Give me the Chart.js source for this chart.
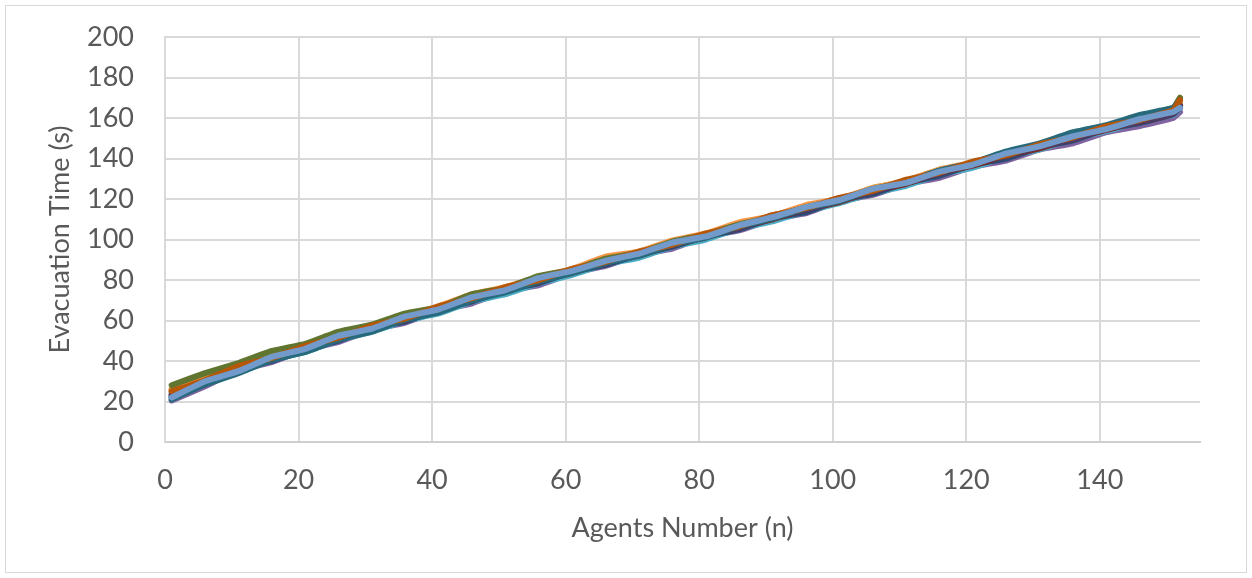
<!DOCTYPE html>
<html>
<head>
<meta charset="utf-8">
<script src="https://cdn.jsdelivr.net/npm/chart.js@4"></script>
<style>
  html, body { margin: 0; padding: 0; background: #fff; }
  #wrap { width: 1252px; height: 578px; position: relative; }
</style>
</head>
<body>
<div id="wrap"><canvas id="chartEvac"></canvas></div>
<script>
// agents number (x) sampled every 5 agents
const agents = [1, 6, 11, 16, 21, 26, 31, 36, 41, 46, 51, 56, 61, 66, 71, 76, 81, 86, 91, 96, 101, 106, 111, 116, 121, 126, 131, 136, 141, 146, 151, 152];

const run1 = [24, 30.5, 35.5, 42.5, 45.5, 52.5, 55.5, 61.5, 65.5, 71.5, 74.5, 80.5, 83.5, 89.5, 92.5, 97.5, 101.5, 106.5, 110.5, 115.5, 118.5, 124.5, 127.5, 133.5, 136.5, 141.5, 145.5, 150.5, 154.5, 159.5, 163, 166];
const run2 = [25, 30.5, 37.5, 41.5, 47.5, 51, 57.5, 60.5, 67, 70.5, 76.5, 79.5, 85.5, 88.5, 94, 97.5, 102.5, 106.5, 112, 115.5, 120.5, 124, 129, 133, 138, 141.5, 146.5, 150.5, 155.5, 159, 164, 167];
const run3 = [26, 31.5, 36.5, 43.5, 46.5, 52.5, 56.5, 62.5, 65.5, 72.5, 75.5, 81.5, 84.5, 90.5, 92.5, 98.5, 102.5, 107.5, 111.5, 115.5, 119.5, 125.5, 128.5, 134.5, 137.5, 142.5, 146.5, 151.5, 155.5, 160.5, 164, 168];
const run4 = [20.5, 27.5, 35.5, 39.5, 45.5, 49.5, 55.5, 59, 65, 68.5, 74.5, 77.5, 83.5, 87, 92.5, 95.5, 101.5, 104.5, 110, 113, 119, 122, 127.5, 130.5, 136, 139, 144.5, 147.5, 153, 156, 160, 163];
const run5 = [22, 29, 34.5, 40.5, 44.5, 50.5, 54.5, 60, 63.5, 69.5, 73, 78.5, 82.5, 88, 91, 96.5, 100, 105.5, 109, 114, 118, 123, 126.5, 132, 135.5, 141, 144.5, 150, 153.5, 158.5, 161.5, 165];
const run6 = [26, 32.5, 37, 43.5, 47.5, 53, 57, 62.5, 67, 73, 76.5, 81.5, 85.5, 91.5, 94, 99.5, 103, 108.5, 111.5, 117, 120, 125.5, 129, 134.5, 138, 143, 147, 152, 155.5, 160.5, 164, 168];
const run7 = [22, 28.5, 36, 40, 46, 50, 56.5, 59.5, 65.5, 69.5, 75, 78.5, 84, 87.5, 92.5, 96.5, 101.5, 105, 110.5, 113.5, 119.5, 122.5, 128, 131.5, 137, 140, 145.5, 149, 154.5, 157.5, 162, 165];
const run8 = [23, 30, 35.5, 41.5, 45.5, 51.5, 55.5, 61, 65, 71, 74.5, 80, 83.5, 89, 92, 97.5, 101, 106.5, 110, 115, 118.5, 124, 127.5, 133, 136.5, 141.5, 145, 150.5, 154, 159, 162.5, 166];
const run9 = [28, 34, 39, 45, 48.5, 54.5, 58, 63.5, 66.5, 73, 76, 82, 85, 90.5, 93.5, 99, 102.5, 107.5, 111, 116, 119.5, 125, 128.5, 134, 137.5, 142.5, 146.5, 152, 155.5, 161, 165, 170];
const run10 = [23, 28.5, 36, 40.5, 46.5, 50.5, 56.5, 60, 66, 70, 75.5, 79, 84.5, 88, 93.5, 97, 102, 105.5, 111.5, 114.5, 119.5, 123.5, 128.5, 132.5, 138, 141, 146, 149.5, 155, 158, 162, 166];
const run11 = [21, 28.5, 34, 40.5, 44.5, 50.5, 54.5, 60.5, 64, 70, 74, 79.5, 83.5, 88.5, 92, 97.5, 101, 106.5, 110.5, 115.5, 119, 124.5, 128.5, 134, 138, 143.5, 147.5, 153, 156.5, 161.5, 165, 169];
const run12 = [25, 30.5, 37.5, 41.5, 47.5, 51.5, 57.5, 61, 67, 71, 76.5, 80, 85.5, 89, 94, 97.5, 103, 106.5, 112, 115.5, 120.5, 124, 129.5, 133, 138.5, 141.5, 147, 150.5, 156, 159, 164, 169];
const run13 = [22, 30, 35, 42, 46, 52.5, 56, 62, 65.5, 71.5, 75, 81, 84.5, 89.5, 93, 98.5, 101.5, 107, 111, 116, 119.5, 125, 128, 133.5, 137, 142.5, 146, 151, 154.5, 159.5, 163, 165];

const runs = [run1, run2, run3, run4, run5, run6, run7, run8, run9, run10, run11, run12, run13];
const runColors = [
  "#4F81BD", "#C0504D", "#9BBB59", "#8064A2", "#4BACC6", "#F79646",
  "#2C4D75", "#772C2A", "#5F7530", "#4D3B62", "#276A7C", "#B65708", "#729ACA",
];

const textColor = "#595959";
const gridColor = "#D9D9D9";
const font = { family: "Lato, 'Open Sans', sans-serif", size: 27 };

const frame = {
  id: "frame",
  beforeDraw(chart) {
    const ctx = chart.ctx;
    ctx.save();
    ctx.fillStyle = "#fff";
    ctx.fillRect(0, 0, chart.width, chart.height);
    ctx.strokeStyle = "#D9D9D9";
    ctx.lineWidth = 1;
    ctx.strokeRect(5.5, 5.5, 1241, 567);
    ctx.restore();
  },
};

const datasets = runs.map((vals, i) => ({
  label: "Run " + (i + 1),
  data: vals.map((v, j) => ({ x: agents[j], y: v })),
  borderColor: runColors[i],
  backgroundColor: runColors[i],
  borderWidth: 6,
  pointRadius: 0,
  tension: 0.1,
  borderJoinStyle: "round",
  borderCapStyle: "round",
  order: runs.length - i, // last run on top, like the original
}));

new Chart(document.getElementById("chartEvac"), {
  type: "line",
  data: { datasets },
  plugins: [frame],
  options: {
    responsive: true,
    maintainAspectRatio: false,
    animation: false,
    layout: { padding: { left: 0, right: 52, top: 37, bottom: 0 } },
    plugins: { legend: { display: false }, tooltip: { enabled: false } },
    scales: {
      x: {
        type: "linear",
        min: 0,
        max: 155,
        afterBuildTicks: (s) => { s.ticks = s.ticks.filter((t) => t.value % 20 === 0); },
        afterFit: (s) => { s.height = 136; },
        ticks: { stepSize: 20, color: textColor, font, padding: 22 },
        grid: { color: gridColor, lineWidth: 2, drawTicks: false },
        border: { color: "#CFCFCF", width: 2 },
        title: {
          display: true,
          text: "Agents Number (n)",
          color: textColor,
          font,
          padding: { top: 0, bottom: 34 },
        },
      },
      y: {
        min: 0,
        max: 200,
        afterFit: (s) => {
          s.width = 165;
          s.paddingTop = 0; // tick padding would otherwise push the plot down
          s.paddingBottom = 0;
        },
        ticks: { stepSize: 20, color: textColor, font, padding: 31 },
        grid: { color: gridColor, lineWidth: 2, drawTicks: false },
        border: { color: gridColor, width: 2 },
        title: {
          display: true,
          text: "Evacuation Time (s)",
          color: textColor,
          font,
          padding: { top: 44, bottom: 0 },
        },
      },
    },
  },
});
</script>
</body>
</html>
